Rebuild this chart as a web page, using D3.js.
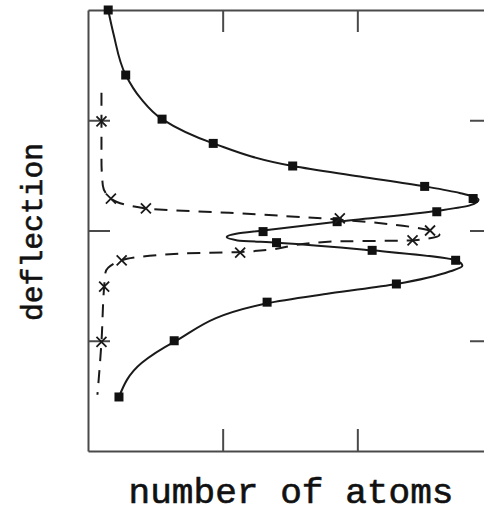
<!DOCTYPE html>
<html>
<head>
<meta charset="utf-8">
<script src="https://cdn.jsdelivr.net/npm/d3@7"></script>
<style>
  html, body { margin: 0; padding: 0; background: #fff; }
  svg { display: block; }
</style>
</head>
<body>
<svg id="chart" width="484" height="515"></svg>
<script>
// ---- data (number of atoms vs. deflection) ----
// measured points, solid series (squares)
const squareNumber     = [0.15, 0.28, 0.55, 0.93, 1.52, 2.50, 2.86, 2.59, 1.85, 1.30, 1.40, 2.11, 2.73, 2.29, 1.33, 0.64, 0.23];
const squareDeflection = [2.00, 1.41, 1.01, 0.79, 0.585, 0.40, 0.29, 0.17, 0.08, -0.01, -0.11, -0.18, -0.27, -0.485, -0.65, -1.00, -1.51];

// measured points, dashed series (crosses)
const crossNumber     = [0.10, 0.17, 0.43, 1.87, 2.54, 2.41, 1.13, 0.25, 0.12, 0.10];
const crossDeflection = [0.99, 0.29, 0.20, 0.11, 0.00, -0.09, -0.20, -0.27, -0.51, -1.01];

// solid fitted curve
const solidFitNumber     = [0.15, 0.19, 0.28, 0.39, 0.55, 0.93, 1.52, 2.02, 2.50, 2.76, 2.90, 2.84, 2.60, 1.85, 1.30, 1.10, 1.03, 1.11, 1.40, 2.11, 2.73, 2.78, 2.69, 2.29, 1.80, 1.33, 0.64, 0.40, 0.23];
const solidFitDeflection = [2.00, 1.78, 1.41, 1.20, 1.01, 0.79, 0.585, 0.49, 0.40, 0.34, 0.28, 0.23, 0.18, 0.08, 0.00, -0.03, -0.06, -0.09, -0.11, -0.18, -0.27, -0.32, -0.37, -0.485, -0.57, -0.66, -1.01, -1.20, -1.51];

// dashed fitted curve
const dashFitNumber     = [0.10, 0.10, 0.10, 0.11, 0.17, 0.43, 1.05, 1.85, 2.54, 2.61, 2.41, 1.82, 1.13, 0.68, 0.25, 0.13, 0.12, 0.10, 0.07];
const dashFitDeflection = [1.25, 0.99, 0.64, 0.41, 0.29, 0.20, 0.16, 0.10, 0.00, -0.04, -0.09, -0.10, -0.195, -0.21, -0.27, -0.38, -0.51, -1.01, -1.49];

const xTicks = [1, 2];
const yTicks = [-1, 0, 1];
const xLabel = "number of atoms";
const yLabel = "deflection";

// ---- drawing ----
const svg = d3.select("#chart");
const x = d3.scaleLinear().domain([0, 3]).range([88, 492]);
const y = d3.scaleLinear().domain([-2, 2]).range([451, 10]);

const frameColor = "#4a4a4a";
const inkColor = "#1a1a1a";
const tickLen = 22;

function styleAxis(g) {
  g.selectAll("path.domain").attr("stroke", frameColor).attr("stroke-width", 2);
  g.selectAll(".tick line").attr("stroke", frameColor).attr("stroke-width", 2);
  g.selectAll(".tick text").remove();
}

svg.append("g").attr("transform", `translate(0,${y(-2)})`)
  .call(d3.axisBottom(x).tickValues(xTicks).tickSizeInner(-tickLen).tickSizeOuter(0).tickFormat(""))
  .call(styleAxis);
svg.append("g").attr("transform", `translate(0,${y(2)})`)
  .call(d3.axisTop(x).tickValues(xTicks).tickSizeInner(-tickLen).tickSizeOuter(0).tickFormat(""))
  .call(styleAxis);
svg.append("g").attr("transform", `translate(${x(0)},0)`)
  .call(d3.axisLeft(y).tickValues(yTicks).tickSizeInner(-tickLen).tickSizeOuter(0).tickFormat(""))
  .call(styleAxis);
svg.append("g").attr("transform", `translate(${x(3)},0)`)
  .call(d3.axisRight(y).tickValues(yTicks).tickSizeInner(-tickLen).tickSizeOuter(0).tickFormat(""))
  .call(styleAxis);

const line = d3.line()
  .x(d => x(d[0]))
  .y(d => y(d[1]))
  .curve(d3.curveMonotoneY);

const solidPts = solidFitNumber.map((v, i) => [v, solidFitDeflection[i]]);
const dashPts = dashFitNumber.map((v, i) => [v, dashFitDeflection[i]]);

svg.append("path")
  .attr("d", line(dashPts))
  .attr("fill", "none")
  .attr("stroke", inkColor)
  .attr("stroke-width", 2)
  .attr("stroke-dasharray", "13,9");

svg.append("path")
  .attr("d", line(solidPts))
  .attr("fill", "none")
  .attr("stroke", inkColor)
  .attr("stroke-width", 2);

// squares
const sq = 9;
svg.append("g").selectAll("rect")
  .data(squareNumber.map((v, i) => [v, squareDeflection[i]]))
  .join("rect")
  .attr("x", d => x(d[0]) - sq / 2)
  .attr("y", d => y(d[1]) - sq / 2)
  .attr("width", sq)
  .attr("height", sq)
  .attr("fill", "#111");

// crosses
const cr = 5;
svg.append("g").selectAll("path")
  .data(crossNumber.map((v, i) => [v, crossDeflection[i]]))
  .join("path")
  .attr("d", d => {
    const cx = x(d[0]), cy = y(d[1]);
    return `M${cx - cr},${cy - cr}L${cx + cr},${cy + cr}M${cx - cr},${cy + cr}L${cx + cr},${cy - cr}`;
  })
  .attr("stroke", inkColor)
  .attr("stroke-width", 1.8)
  .attr("fill", "none");

// labels
svg.append("text")
  .attr("x", 291).attr("y", 503)
  .attr("text-anchor", "middle")
  .attr("font-family", "'Liberation Mono', 'DejaVu Sans Mono', monospace")
  .attr("font-size", 35)
  .attr("fill", "#111")
  .attr("stroke", "#111")
  .attr("stroke-width", 0.6)
  .attr("textLength", 325)
  .attr("lengthAdjust", "spacingAndGlyphs")
  .text(xLabel);

svg.append("text")
  .attr("transform", "translate(42,232) rotate(-90)")
  .attr("text-anchor", "middle")
  .attr("font-family", "'Liberation Mono', 'DejaVu Sans Mono', monospace")
  .attr("font-size", 30)
  .attr("fill", "#111")
  .attr("stroke", "#111")
  .attr("stroke-width", 0.6)
  .attr("textLength", 178)
  .attr("lengthAdjust", "spacingAndGlyphs")
  .text(yLabel);
</script>
</body>
</html>
